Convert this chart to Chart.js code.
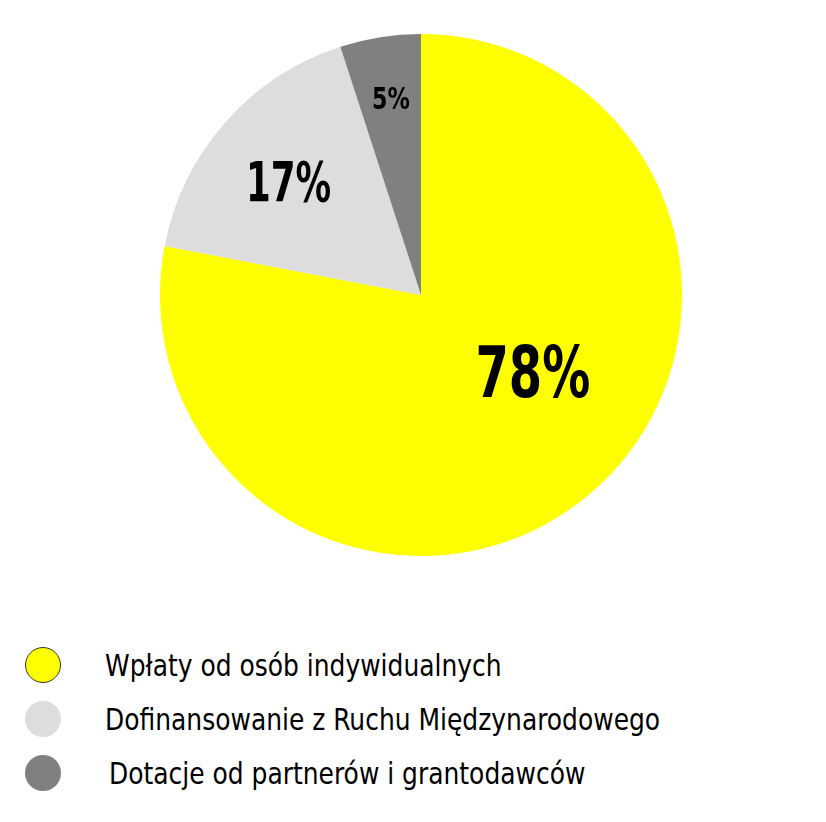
<!DOCTYPE html>
<html>
<head>
<meta charset="utf-8">
<script src="https://cdn.jsdelivr.net/npm/chart.js@4"></script>
<style>
  html, body { margin: 0; padding: 0; background: #fff; }
  body { width: 826px; height: 822px; position: relative; overflow: hidden;
         font-family: "Liberation Sans Narrow", "DejaVu Sans Condensed", sans-serif; }
  #pie { position: absolute; left: 0; top: 0; width: 826px; height: 590px; }
  .legend { position: absolute; left: 25px; top: 647px; }
  .legend__item { position: relative; height: 54px; }
  .legend__dot { position: absolute; left: 0; top: 0; width: 36px; height: 36px;
                 border-radius: 50%; box-sizing: border-box; }
  .legend__text { position: absolute; left: 80px; top: -1px; font-size: 30px; line-height: 40px;
                  color: #000; white-space: nowrap; transform: scaleX(0.925); transform-origin: 0 50%; }
</style>
</head>
<body>
<div id="pie"><canvas id="chart"></canvas></div>
<div class="legend" id="legend"></div>
<script>
// data
const categories = [
    'Wpłaty od osób indywidualnych',
    'Dofinansowanie z Ruchu Międzynarodowego',
    'Dotacje od partnerów i grantodawców'
];
const shares = [78, 17, 5];
const colors = ['#FFFF00', '#DDDDDD', '#808080'];
const pctLabels = ['78%', '17%', '5%'];

// label placement inside each slice: radius fraction, angle shift (rad), font size, x squeeze
const labelStyle = [
    { r: 0.52, shift: -0.277, size: 72, sx: 0.74, weight: 'bold' },
    { r: 0.668, shift: -0.014, size: 55, sx: 0.72, weight: 'bold' },
    { r: 0.762, shift: 0.005, size: 31, sx: 0.8, weight: 'bold' }
];

const sliceLabels = {
    id: 'sliceLabels',
    afterDatasetsDraw(chart) {
        const ctx = chart.ctx;
        const meta = chart.getDatasetMeta(0);
        meta.data.forEach((arc, i) => {
            const st = labelStyle[i];
            const mid = (arc.startAngle + arc.endAngle) / 2 + st.shift;
            const rr = arc.outerRadius * st.r;
            const x = arc.x + Math.cos(mid) * rr;
            const y = arc.y + Math.sin(mid) * rr;
            ctx.save();
            ctx.fillStyle = '#000';
            ctx.font = st.weight + ' ' + st.size + 'px "Liberation Sans Narrow", "DejaVu Sans Condensed", sans-serif';
            ctx.textAlign = 'center';
            ctx.textBaseline = 'alphabetic';
            // put the middle of the digits (cap height) on the anchor
            ctx.translate(x, y + st.size * 0.35);
            ctx.scale(st.sx, 1);
            ctx.fillText(pctLabels[i], 0, 0);
            ctx.restore();
        });
    }
};

new Chart(document.getElementById('chart'), {
    type: 'pie',
    data: {
        labels: categories,
        datasets: [{
            data: shares,
            backgroundColor: colors,
            borderWidth: 0
        }]
    },
    options: {
        responsive: true,
        maintainAspectRatio: false,
        animation: false,
        radius: 261,
        layout: { padding: { left: 16, right: 0, top: 34, bottom: 34 } },
        plugins: {
            legend: { display: false },
            tooltip: { enabled: false }
        }
    },
    plugins: [sliceLabels]
});

// legend built from the same arrays
const legend = document.getElementById('legend');
categories.forEach((name, i) => {
    const item = document.createElement('div');
    item.className = 'legend__item';
    const dot = document.createElement('div');
    dot.className = 'legend__dot';
    dot.style.background = colors[i];
    if (i === 0) dot.style.border = '1px solid #333';
    const text = document.createElement('div');
    text.className = 'legend__text';
    text.textContent = name;
    if (i === 2) text.style.left = '84px';
    item.appendChild(dot);
    item.appendChild(text);
    legend.appendChild(item);
});
</script>
</body>
</html>
